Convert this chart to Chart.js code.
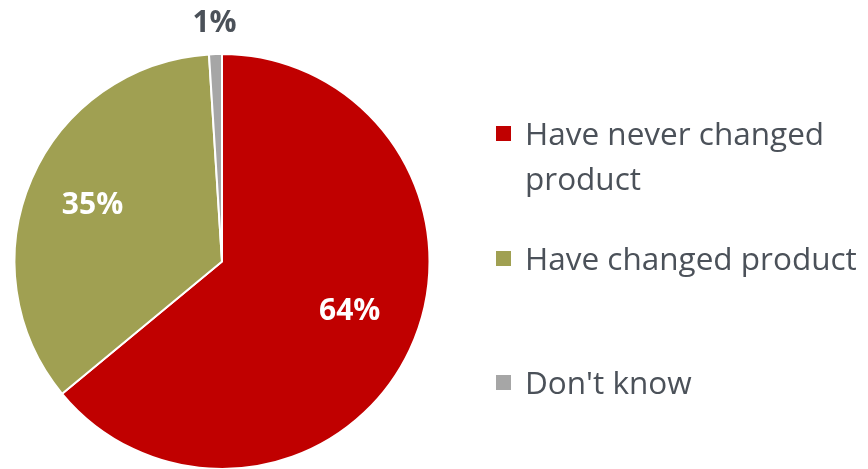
<!DOCTYPE html>
<html>
<head>
<meta charset="utf-8">
<script src="https://cdn.jsdelivr.net/npm/chart.js@4/dist/chart.umd.min.js"></script>
<style>
  html, body { margin: 0; padding: 0; background: #fff; overflow: hidden; }
  #wrap { position: relative; width: 868px; height: 480px; }
  #legend { position: absolute; left: 496px; top: 0; font-family: "Open Sans", sans-serif;
            font-size: 31.5px; color: #4b5159; }
  .item { position: absolute; left: 0; white-space: nowrap; line-height: 45px; }
  .box { position: absolute; left: 0; width: 15px; height: 15px; }
  .txt { position: absolute; left: 29px; }
</style>
</head>
<body>
<div id="wrap">
  <canvas id="myChart" width="868" height="480"></canvas>
  <div id="legend"></div>
</div>
<script>
// Survey answers and shares (%)
const categories = ['Have never changed product', 'Have changed product', "Don't know"];
const legendLines = [['Have never changed', 'product'], ['Have changed product'], ["Don't know"]];
const values = [64, 35, 1];
const colors = ['#C00000', '#A0A052', '#A6A6A6'];
const legendTops = [110, 235, 359];

// Legend on the right, built from the same arrays
const legend = document.getElementById('legend');
categories.forEach((c, i) => {
    const item = document.createElement('div');
    item.className = 'item';
    item.style.top = legendTops[i] + 'px';
    const box = document.createElement('div');
    box.className = 'box';
    box.style.background = colors[i];
    box.style.top = '16px';
    item.appendChild(box);
    const txt = document.createElement('div');
    txt.className = 'txt';
    txt.innerHTML = legendLines[i].join('<br>');
    item.appendChild(txt);
    legend.appendChild(item);
});

// Percent labels: inside the big slices, outside for the tiny one
const pctLabels = {
    id: 'pctLabels',
    afterDatasetsDraw(chart) {
        const ctx = chart.ctx;
        const meta = chart.getDatasetMeta(0);
        ctx.save();
        ctx.font = 'bold 30px "Open Sans", sans-serif';
        ctx.textAlign = 'center';
        ctx.textBaseline = 'middle';
        meta.data.forEach((arc, i) => {
            const mid = (arc.startAngle + arc.endAngle) / 2;
            const small = values[i] < 5;
            const r = small ? arc.outerRadius + 31 : arc.outerRadius * 0.68;
            let x = arc.x + Math.cos(mid) * r;
            let y = arc.y + Math.sin(mid) * r;
            // the big slice's label sits a little higher than its mid angle
            if (i === 0) y -= 10;
            ctx.fillStyle = small ? '#4b5159' : '#ffffff';
            ctx.fillText(values[i] + '%', x, y);
        });
        ctx.restore();
    }
};

const ctx = document.getElementById('myChart').getContext('2d');
new Chart(ctx, {
    type: 'pie',
    data: {
        labels: categories,
        datasets: [{
            data: values,
            backgroundColor: colors,
            borderColor: '#ffffff',
            borderWidth: 2
        }]
    },
    options: {
        responsive: false,
        animation: false,
        layout: { padding: { left: 13, right: 437, top: 53, bottom: 10 } },
        plugins: {
            legend: { display: false },
            tooltip: { enabled: false }
        }
    },
    plugins: [pctLabels]
});
</script>
</body>
</html>
